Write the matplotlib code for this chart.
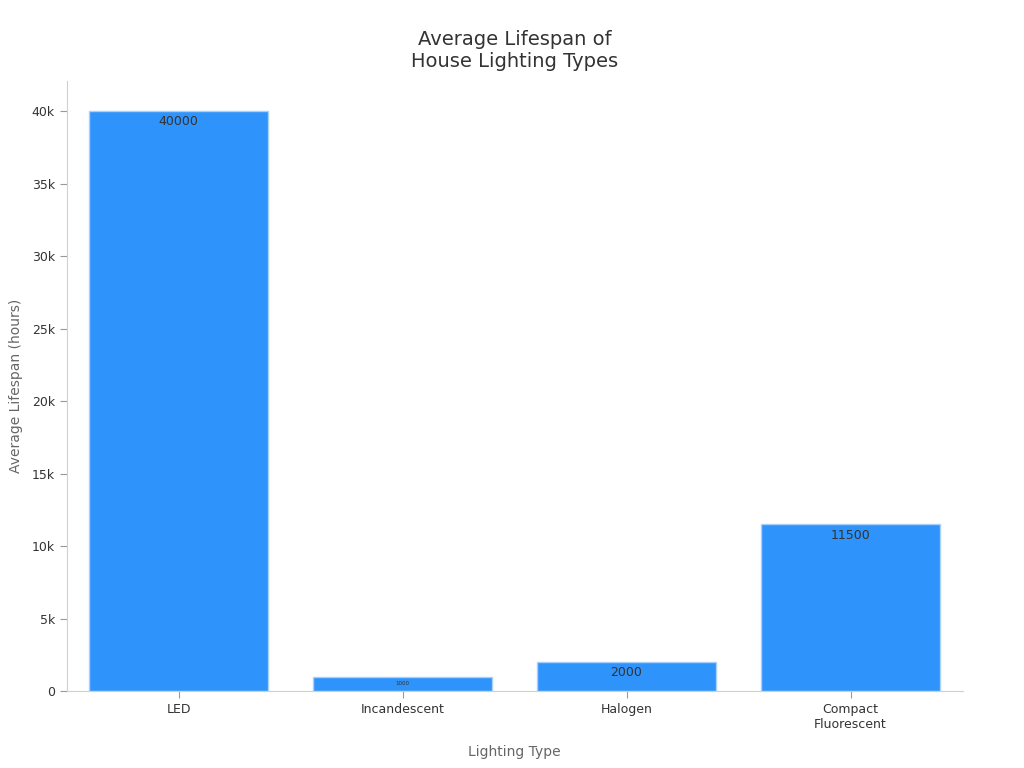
import matplotlib.pyplot as plt
from matplotlib.ticker import FuncFormatter

categories = ["LED", "Incandescent", "Halogen", "Compact\nFluorescent"]
lifespan = [40000, 1000, 2000, 11500]
label_sizes = [9, 4, 9, 9]

fig, ax = plt.subplots(figsize=(10.24, 7.68), dpi=100)
fig.subplots_adjust(left=0.065, right=0.94, bottom=0.10, top=0.895)

x = range(len(categories))
bars = ax.bar(x, lifespan, width=0.8, color="#2E93FA", edgecolor="#a9d0fb", linewidth=1)

for b, v, fs in zip(bars, lifespan, label_sizes):
    ax.annotate(str(v), (b.get_x() + b.get_width() / 2, v), xytext=(0, -3),
                textcoords="offset points", ha="center", va="top",
                fontsize=fs, color="#333333")

ax.set_xlim(-0.5, 3.5)
ax.set_ylim(0, 42100)
ax.set_yticks(range(0, 40001, 5000))
ax.yaxis.set_major_formatter(FuncFormatter(lambda v, p: "0" if v == 0 else f"{int(v/1000)}k"))
ax.set_xticks(list(x))
ax.set_xticklabels(categories)

ax.set_title("Average Lifespan of\nHouse Lighting Types", fontsize=14, color="#333333", pad=10)
ax.set_xlabel("Lighting Type", fontsize=10, color="#666666", labelpad=10)
ax.set_ylabel("Average Lifespan (hours)", fontsize=10, color="#666666", labelpad=6)

for s in ["top", "right"]:
    ax.spines[s].set_visible(False)
for s in ["left", "bottom"]:
    ax.spines[s].set_color("#d0d0d0")
ax.tick_params(colors="#333333", labelsize=9)
ax.tick_params(axis="both", color="#999999", length=5)

fig.savefig("out.png", dpi=100)
